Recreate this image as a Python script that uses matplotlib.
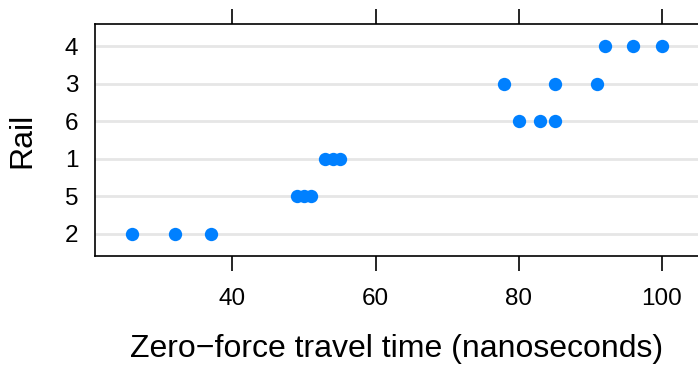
import matplotlib
matplotlib.use("Agg")
import matplotlib.pyplot as plt

rails = ["2", "5", "1", "6", "3", "4"]  # bottom to top
travel = {
    "1": [55, 53, 54],
    "2": [26, 37, 32],
    "3": [78, 91, 85],
    "4": [92, 100, 96],
    "5": [49, 51, 50],
    "6": [80, 85, 83],
}
xticks = [40, 60, 80, 100]

plt.rcParams['font.family'] = ['Liberation Sans', 'DejaVu Sans']
fig = plt.figure(figsize=(6.98, 3.65), dpi=100)
W, H = 698, 365
left, right, top, bottom = 95, 699, 24, 256
ax = fig.add_axes([left / W, 1 - bottom / H, (right - left) / W, (bottom - top) / H])

for i, r in enumerate(rails):
    ax.axhline(i + 1, color="#e6e6e6", lw=2, zorder=1)
    ax.plot(travel[r], [i + 1] * len(travel[r]), "o", color="#0080ff",
            ms=9.6, mec="none", zorder=3)

allv = [v for r in rails for v in travel[r]]
lo, hi = min(allv), max(allv)
pad = (hi - lo) * 0.07
ax.set_xlim(lo - pad, hi + pad)
ax.set_ylim(0.4, len(rails) + 0.6)
ax.set_yticks(range(1, len(rails) + 1))
ax.set_yticklabels(rails)
ax.set_xticks(xticks)
ax.set_xticklabels([str(t) for t in xticks])
ax.tick_params(axis="x", which="both", direction="out", length=11, width=1.2,
               top=True, labeltop=False, labelsize=17.5, pad=12, colors="black")
ax.tick_params(axis="y", length=0, labelsize=17.5, pad=12)
for s in ax.spines.values():
    s.set_linewidth(1.2)
ax.set_xlabel("Zero\u2212force travel time (nanoseconds)", fontsize=23, labelpad=17)
ax.set_ylabel("Rail", fontsize=23, labelpad=20)

fig.savefig("out.png", dpi=100)
